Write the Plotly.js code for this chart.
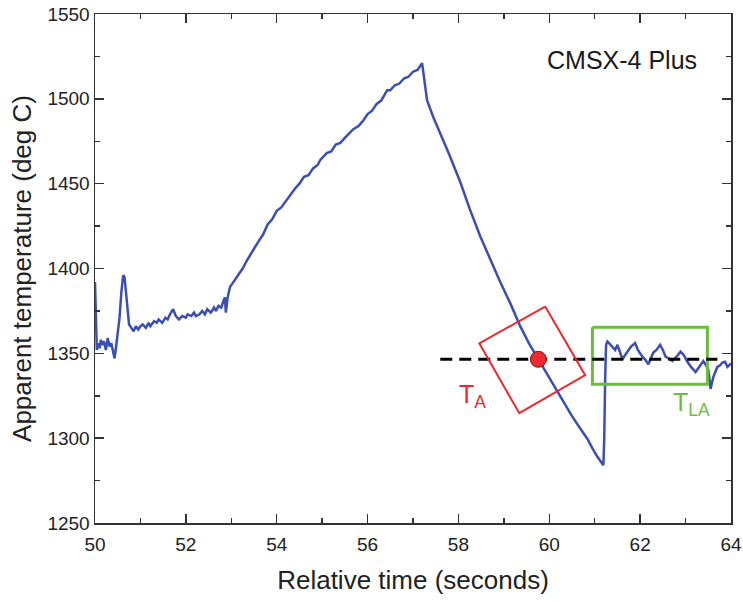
<!DOCTYPE html>
<html>
<head>
<meta charset="utf-8">
<script src="https://cdn.plot.ly/plotly-3.0.1.min.js"></script>
<style>html,body{margin:0;padding:0;background:#fff;}#chart{width:743px;height:602px;}</style>
</head>
<body>
<div id="chart"></div>
<script>
// Measured trace: relative time (s) and apparent temperature (deg C)
const timeS = [
  50.00, 50.01, 50.02, 50.04, 50.07, 50.10, 50.13, 50.16, 50.20, 50.24, 50.28, 50.32, 50.36, 50.40, 50.43, 50.46,
  50.50, 50.54, 50.58, 50.62, 50.65, 50.68, 50.71, 50.75, 50.80, 50.85, 50.90, 50.95, 51.00,
  51.05, 51.12, 51.18, 51.22, 51.30, 51.36, 51.40, 51.48, 51.55, 51.60, 51.65, 51.72, 51.78, 51.85,
  51.92, 52.00, 52.04, 52.12, 52.18, 52.22, 52.30, 52.36, 52.42, 52.47, 52.55, 52.62, 52.66,
  52.72, 52.78, 52.83, 52.86, 52.88, 52.92, 52.97, 53.05, 53.13, 53.25, 53.35, 53.48,
  53.60, 53.70, 53.80, 53.90, 54.00, 54.10, 54.23, 54.30, 54.40, 54.50, 54.60, 54.70, 54.80, 54.90, 54.96,
  55.10, 55.20, 55.30, 55.40, 55.50, 55.60, 55.68, 55.80, 55.90, 56.00, 56.10, 56.20, 56.30, 56.43, 56.50,
  56.60, 56.70, 56.80, 56.90, 57.00, 57.10, 57.20,
  57.23, 57.26, 57.31, 57.45, 57.60, 57.80, 58.04, 58.25, 58.48, 58.70, 58.92, 59.15, 59.36, 59.55, 59.76,
  60.00, 60.24, 60.50, 60.70, 60.84, 60.95, 61.06, 61.19,
  61.21, 61.23, 61.25, 61.28, 61.34, 61.39, 61.45, 61.50, 61.56, 61.61, 61.67, 61.74, 61.80, 61.89, 61.95,
  62.05, 62.12, 62.18, 62.23, 62.29, 62.36, 62.44, 62.50, 62.56, 62.63, 62.71, 62.80,
  62.89, 62.96, 63.04, 63.12, 63.22, 63.30, 63.39, 63.45, 63.50, 63.55, 63.61, 63.70, 63.76, 63.81, 63.87, 63.92, 64.00
];
const tempC = [
  1392, 1378, 1360, 1352, 1356, 1353, 1358, 1355, 1357, 1352, 1359, 1354, 1356, 1350, 1347, 1353,
  1362, 1371, 1386, 1396, 1395, 1387, 1375, 1367, 1365, 1363, 1366, 1364, 1366,
  1367, 1365, 1368, 1366, 1369, 1368, 1370, 1368, 1371, 1370, 1373, 1376, 1372, 1370,
  1372, 1371, 1373, 1372, 1374, 1372, 1373, 1375, 1373, 1376, 1374, 1377, 1375,
  1378, 1377, 1381, 1383, 1374, 1383, 1389, 1392, 1395, 1400, 1405, 1411,
  1416, 1420, 1426, 1429, 1434, 1436, 1441, 1443, 1447, 1450, 1454, 1455, 1459, 1461, 1464,
  1468, 1469, 1473, 1474, 1477, 1480, 1482, 1484, 1487, 1491, 1493, 1497, 1499, 1505, 1505,
  1508, 1509, 1512, 1513, 1516, 1517, 1521,
  1515, 1507, 1499, 1489, 1480, 1467, 1451, 1435, 1419, 1405, 1392, 1379, 1366, 1356, 1346.5,
  1336, 1325, 1313, 1305, 1299.5, 1294, 1289, 1284,
  1300, 1335, 1355, 1357, 1355, 1354, 1352, 1355, 1351, 1346.5, 1349, 1352, 1354, 1356, 1352,
  1348, 1346, 1343.5, 1347, 1350.5, 1352, 1355, 1352, 1348, 1347, 1345.5, 1348,
  1351, 1349, 1345, 1342, 1339, 1342, 1345.5, 1343, 1340.5, 1329, 1336, 1342, 1343, 1344.6, 1345, 1342, 1344
];

// Annotation geometry (data units)
const refLineX = [57.6, 63.7];
const refLineY = [1346.5, 1346.5];
const taPointX = [59.76];
const taPointY = [1346.5];
const taBoxX = [59.91, 60.79, 59.34, 58.46, 59.91];
const taBoxY = [1377.6, 1337.1, 1314.7, 1355.9, 1377.6];
const tlaBoxX = [60.95, 63.48, 63.48, 60.95, 60.95];
const tlaBoxY = [1365.3, 1365.3, 1331.8, 1331.8, 1365.3];

const xTicks = [50, 52, 54, 56, 58, 60, 62, 64];
const yTicks = [1250, 1300, 1350, 1400, 1450, 1500, 1550];

const FONT = 'Liberation Sans, Arial, sans-serif';
const RED = '#ea2a2e';
const GREEN = '#6cbd3c';
const BLUE = '#3b4fb3';

const traces = [
  {x: timeS, y: tempC, mode: 'lines', line: {color: BLUE, width: 2.5}, hoverinfo: 'skip'},
  {x: tlaBoxX, y: tlaBoxY, mode: 'lines', line: {color: GREEN, width: 3}, hoverinfo: 'skip'},
  {x: refLineX, y: refLineY, mode: 'lines', line: {color: '#000', width: 3, dash: '12px,7px'}, hoverinfo: 'skip'},
  {x: taBoxX, y: taBoxY, mode: 'lines', line: {color: RED, width: 2}, hoverinfo: 'skip'},
  {x: taPointX, y: taPointY, mode: 'markers', marker: {color: RED, size: 16, line: {color: '#7a1010', width: 1}}, hoverinfo: 'skip'}
];

const axisCommon = {
  showgrid: false, zeroline: false, showline: true, linecolor: '#333', linewidth: 1.5,
  mirror: 'ticks', ticks: 'inside', ticklen: 9, tickwidth: 1.5, tickcolor: '#333',
  tickfont: {family: FONT, size: 19, color: '#222'}
};

const layout = {
  width: 743, height: 602,
  margin: {l: 95, r: 12, t: 14, b: 79},
  paper_bgcolor: '#fff', plot_bgcolor: '#fff',
  showlegend: false, hovermode: false,
  xaxis: Object.assign({}, axisCommon, {
    range: [50, 64], tickvals: xTicks, ticktext: xTicks.map(String),
    ticklabelstandoff: 4,
    minor: {ticks: 'inside', dtick: 1, ticklen: 5, tickwidth: 1.5, tickcolor: '#333'},
    title: {text: 'Relative time (seconds)', font: {family: FONT, size: 26, color: '#222'}, standoff: 16}
  }),
  yaxis: Object.assign({}, axisCommon, {
    range: [1250, 1550], tickvals: yTicks, ticktext: yTicks.map(String),
    minor: {ticks: 'inside', dtick: 25, tick0: 1250, ticklen: 5, tickwidth: 1.5, tickcolor: '#333'},
    title: {text: 'Apparent temperature (deg C)', font: {family: FONT, size: 26, color: '#222'}, standoff: 8}
  }),
  annotations: [
    {x: 61.59, y: 1523, xref: 'x', yref: 'y', text: 'CMSX-4 Plus', showarrow: false,
     font: {family: FONT, size: 25, color: '#1a1a1a'}},
    {x: 58.3, y: 1325, xref: 'x', yref: 'y', text: 'T<sub>A</sub>', showarrow: false,
     font: {family: FONT, size: 25, color: RED}},
    {x: 63.13, y: 1320, xref: 'x', yref: 'y', text: 'T<sub>LA</sub>', showarrow: false,
     font: {family: FONT, size: 25, color: GREEN}}
  ]
};

Plotly.newPlot('chart', traces, layout, {displayModeBar: false, staticPlot: true});
</script>
</body>
</html>
